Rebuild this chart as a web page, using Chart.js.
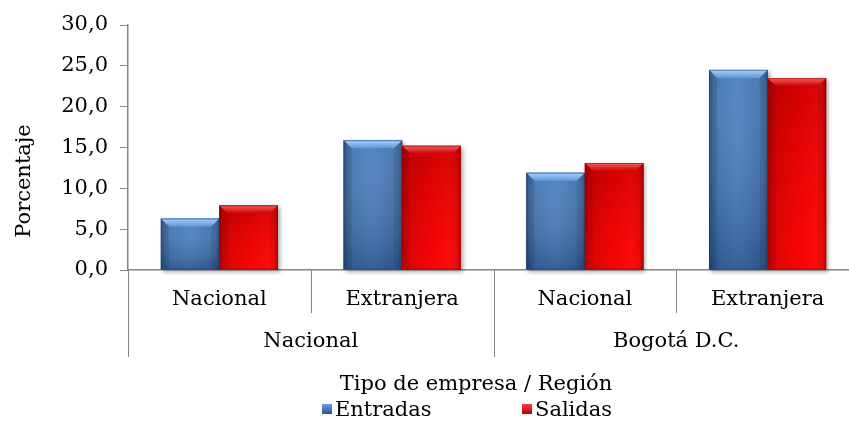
<!DOCTYPE html>
<html>
<head>
<meta charset="utf-8">
<script src="https://cdn.jsdelivr.net/npm/chart.js@4.4.0/dist/chart.umd.min.js"></script>
<style>
  html, body { margin: 0; padding: 0; background: #fff; overflow: hidden; }
  #wrap { width: 862px; height: 425px; }
</style>
</head>
<body>
<div id="wrap"><canvas id="myChart"></canvas></div>
<script>
// tipo de empresa (inner level) and region (outer level)
const tipos = ["Nacional", "Extranjera", "Nacional", "Extranjera"];
const regiones = ["Nacional", "Bogotá D.C."];
const entradas = [6.3, 15.9, 11.9, 24.5];
const salidas = [7.9, 15.2, 13.1, 23.5];
const yTicks = [0, 5, 10, 15, 20, 25, 30];

const FONT = "'DejaVu Serif', serif";
const FSIZE = 21;
const AXIS = "#868686";

// paint every bar with a bevelled, shaded look
const bevelBars = {
  id: "bevelBars",
  afterDatasetsDraw(chart) {
    const ctx = chart.ctx;
    chart.data.datasets.forEach((ds, di) => {
      const meta = chart.getDatasetMeta(di);
      meta.data.forEach((bar) => {
        const p = bar.getProps(["x", "y", "width", "base"], true);
        const l = p.x - p.width / 2, r = p.x + p.width / 2;
        const t = p.y, b = p.base, w = p.width, h = b - t;
        const blue = di === 0;

        ctx.save();
        ctx.shadowColor = "rgba(0,0,0,0.35)";
        ctx.shadowBlur = 4;
        ctx.shadowOffsetX = 2;
        ctx.shadowOffsetY = 2;
        ctx.fillStyle = blue ? "#3b6aa3" : "#e00000";
        ctx.fillRect(l, t, w, h);
        ctx.restore();

        // body
        let g = ctx.createLinearGradient(l, 0, r, 0);
        if (blue) {
          g.addColorStop(0, "#2c5283");
          g.addColorStop(0.1, "#3f72ae");
          g.addColorStop(0.5, "#4a7fc0");
          g.addColorStop(0.92, "#3d6ca6");
          g.addColorStop(1, "#2e5689");
        } else {
          g.addColorStop(0, "#b80000");
          g.addColorStop(0.1, "#d80000");
          g.addColorStop(0.5, "#f50000");
          g.addColorStop(0.92, "#ff0a0a");
          g.addColorStop(1, "#c00000");
        }
        ctx.fillStyle = g;
        ctx.fillRect(l, t, w, h);

        // vertical shading
        let gv = ctx.createLinearGradient(0, t, 0, b);
        if (blue) {
          gv.addColorStop(0, "rgba(255,255,255,0.06)");
          gv.addColorStop(1, "rgba(0,20,60,0.28)");
        } else {
          gv.addColorStop(0, "rgba(90,0,0,0.25)");
          gv.addColorStop(1, "rgba(255,40,40,0.1)");
        }
        ctx.fillStyle = gv;
        ctx.fillRect(l, t, w, h);

        // top bevel
        const bv = Math.min(8, h / 3);
        ctx.beginPath();
        ctx.moveTo(l, t);
        ctx.lineTo(r, t);
        ctx.lineTo(r - bv, t + bv);
        ctx.lineTo(l + bv, t + bv);
        ctx.closePath();
        let gt = ctx.createLinearGradient(0, t, 0, t + bv);
        if (blue) {
          gt.addColorStop(0, "#a9d3fa");
          gt.addColorStop(1, "#5f97d8");
        } else {
          gt.addColorStop(0, "#f06060");
          gt.addColorStop(1, "#d00000");
        }
        ctx.fillStyle = gt;
        ctx.fill();

        // side bevels
        ctx.fillStyle = blue ? "rgba(20,45,80,0.18)" : "rgba(120,0,0,0.16)";
        ctx.beginPath();
        ctx.moveTo(l, t); ctx.lineTo(l + bv, t + bv); ctx.lineTo(l + bv, b); ctx.lineTo(l, b);
        ctx.closePath(); ctx.fill();
        ctx.fillStyle = blue ? "rgba(20,45,80,0.14)" : "rgba(120,0,0,0.12)";
        ctx.beginPath();
        ctx.moveTo(r, t); ctx.lineTo(r - bv, t + bv); ctx.lineTo(r - bv, b); ctx.lineTo(r, b);
        ctx.closePath(); ctx.fill();

        ctx.strokeStyle = blue ? "rgba(30,60,110,0.55)" : "rgba(150,0,0,0.55)";
        ctx.lineWidth = 1;
        ctx.strokeRect(l + 0.5, t + 0.5, w - 1, h - 1);
      });
    });
  }
};

// two-level category axis, axis titles and legend
const labelsPlugin = {
  id: "labelsPlugin",
  afterDraw(chart) {
    const ctx = chart.ctx;
    const area = chart.chartArea;
    const xs = chart.scales.x;
    const n = tipos.length;
    const step = (area.right - area.left) / n;
    const y0 = area.bottom;

    ctx.save();
    ctx.strokeStyle = AXIS;
    ctx.lineWidth = 1;
    for (let i = 0; i <= n; i++) {
      const x = Math.round(area.left + i * step) + 0.5;
      const outer = i % 2 === 0;
      ctx.beginPath();
      ctx.moveTo(x, y0);
      ctx.lineTo(x, y0 + (outer ? 87 : 43));
      ctx.stroke();
    }

    ctx.fillStyle = "#000";
    ctx.font = FSIZE + "px " + FONT;
    ctx.textAlign = "center";
    ctx.textBaseline = "middle";
    tipos.forEach((t, i) => {
      ctx.fillText(t, xs.getPixelForValue(i), y0 + 30);
    });
    regiones.forEach((r, i) => {
      ctx.fillText(r, area.left + (2 * i + 1) * step, y0 + 72);
    });

    ctx.fillText("Tipo de empresa / Región", 476, 385);

    // legend
    const items = [
      { text: chart.data.datasets[0].label, x: 322, c1: "#6ea1de", c2: "#2c5283" },
      { text: chart.data.datasets[1].label, x: 522, c1: "#ff4040", c2: "#b00000" }
    ];
    ctx.textAlign = "left";
    items.forEach((it) => {
      const g = ctx.createLinearGradient(0, 404, 0, 414);
      g.addColorStop(0, it.c1);
      g.addColorStop(1, it.c2);
      ctx.fillStyle = g;
      ctx.fillRect(it.x, 404, 10, 10);
      ctx.fillStyle = "#000";
      ctx.fillText(it.text, it.x + 13, 411);
    });

    // y axis title
    ctx.translate(25, 181);
    ctx.rotate(-Math.PI / 2);
    ctx.textAlign = "center";
    ctx.fillText("Porcentaje", 0, 0);
    ctx.restore();
  }
};

const data = {
  labels: tipos,
  datasets: [
    { label: "Entradas", data: entradas, backgroundColor: "#4a7fc0", borderWidth: 0 },
    { label: "Salidas", data: salidas, backgroundColor: "#ff0000", borderWidth: 0 }
  ]
};

const config = {
  type: "bar",
  data: data,
  options: {
    responsive: false,
    animation: false,
    layout: { padding: { top: 25, right: 3, left: 0, bottom: 0 } },
    categoryPercentage: 0.64,
    barPercentage: 1.0,
    plugins: {
      legend: { display: false },
      tooltip: { enabled: false }
    },
    scales: {
      x: {
        ticks: { display: false },
        grid: { display: false, drawTicks: false },
        border: { color: AXIS, width: 1.5 },
        afterFit(scale) { scale.height = 155; }
      },
      y: {
        min: 0,
        max: 30,
        afterBuildTicks(scale) { scale.ticks = yTicks.map((v) => ({ value: v })); },
        ticks: {
          color: "#000",
          font: { family: FONT, size: FSIZE },
          padding: 12,
          callback: (v) => v.toFixed(1).replace(".", ",")
        },
        grid: { drawOnChartArea: false, drawTicks: true, tickLength: 8, color: AXIS },
        border: { color: AXIS, width: 1.5 },
        afterFit(scale) { scale.width = 128; }
      }
    }
  },
  plugins: [bevelBars, labelsPlugin]
};

const canvas = document.getElementById("myChart");
canvas.width = 862;
canvas.height = 425;
var myChart = new Chart(canvas, config);
</script>
</body>
</html>
